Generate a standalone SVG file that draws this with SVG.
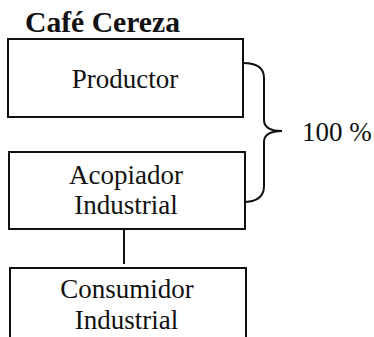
<svg xmlns="http://www.w3.org/2000/svg" width="374" height="337" viewBox="0 0 374 337" font-family="Liberation Serif, Times New Roman, serif">
<style>
.box{fill:#fff;stroke:#111;stroke-width:2}
.t{font-size:27px;fill:#111;text-anchor:middle}
.ln{fill:none;stroke:#111;stroke-width:2}
</style>
<rect width="374" height="337" fill="#fff"/>
<text x="25" y="32" font-family="Liberation Serif, Times New Roman, serif" font-weight="bold" font-size="29" fill="#111" textLength="155" lengthAdjust="spacingAndGlyphs">Café Cereza</text>
<g id="connectors">
<line class="ln" x1="124" y1="229" x2="124" y2="264"/>
<path class="ln" d="M243 63 Q264 63 264 78 L264 120 Q264 131 282 131 Q264 131 264 142 L264 186 Q264 202 243 202"/>
</g>
<g id="productor" font-family="Liberation Serif, Times New Roman, serif">
<rect class="box" x="8" y="39" width="235" height="78"/>
<text class="t" x="125" y="88">Productor</text>
</g>
<g id="acopiador" font-family="Liberation Serif, Times New Roman, serif">
<rect class="box" x="9" y="152" width="236" height="77"/>
<text class="t" x="126" y="184">Acopiador</text>
<text class="t" x="126" y="214">Industrial</text>
</g>
<g id="consumidor" font-family="Liberation Serif, Times New Roman, serif">
<path class="box" d="M10 340 L10 268 L246 268 L246 340"/>
<text class="t" x="127" y="298">Consumidor</text>
<text class="t" x="126.5" y="329">Industrial</text>
</g>
<text class="t" x="302" y="141" font-family="Liberation Serif, Times New Roman, serif" style="text-anchor:start">100 %</text>
</svg>
